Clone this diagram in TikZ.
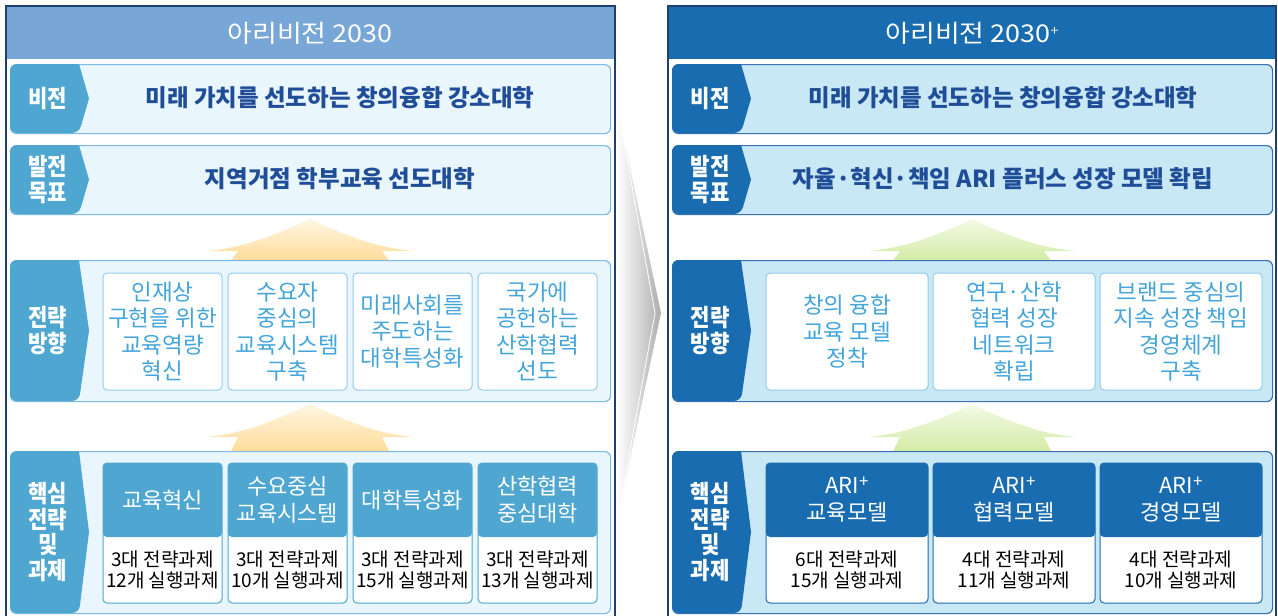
\documentclass[tikz,border=0pt]{standalone}
\usepackage{fontspec}
\usetikzlibrary{positioning}
\newfontfamily\krtitle[FakeStretch=1.1]{Noto Sans CJK KR}
\newfontfamily\krwide{Noto Sans CJK KR}
\newfontfamily\krfont[FakeStretch=0.88]{Noto Sans CJK KR}

\definecolor{navy}{HTML}{1F3F6E}
\definecolor{oldtitle}{HTML}{78A7D7}
\definecolor{oldtab}{HTML}{4EA6D1}
\definecolor{oldrowfill}{HTML}{EAF6FD}
\definecolor{oldline}{HTML}{7DBBE3}
\definecolor{newtitle}{HTML}{1A6CB0}
\definecolor{newrowfill}{HTML}{C8E8F5}
\definecolor{newline}{HTML}{3A70B8}
\definecolor{boxline}{HTML}{95CBEA}
\definecolor{boxtext}{HTML}{44A5DA}
\definecolor{goaltext}{HTML}{1F4D97}
\definecolor{oldarrowtop}{HTML}{FFF6E2}
\definecolor{oldarrowbot}{HTML}{FFDB98}
\definecolor{newarrowtop}{HTML}{F3FAE6}
\definecolor{newarrowbot}{HTML}{D2ECA4}

% tab with a pointed right side: x, top, bottom, colour, label, name
\newcommand\rowtab[6]{%
  \fill[#4, rounded corners=7pt] (#1+40,#2) -- (#1,#2) -- (#1,#3) -- (#1+69,#3)
    [sharp corners] -- (#1+79,{(#2+#3)/2}) -- (#1+69,#2) -- cycle;
  \node[tablabel] (#6) at (#1+38,{(#2+#3)/2}) {#5};
}
% wide upward arrow: centre x, tip, wings, foot, top colour, bottom colour
\newcommand\growarrow[6]{%
  \shade[top color=#5, bottom color=#6] (#1,#2)
    .. controls (#1-30,#2+14) and (#1-65,#3-3) .. (#1-104,#3)
    -- (#1-72,#3) -- (#1-80,#4) -- (#1+80,#4) -- (#1+72,#3) -- (#1+104,#3)
    .. controls (#1+65,#3-3) and (#1+30,#2+14) .. (#1,#2) -- cycle;
}

\begin{document}
\begin{tikzpicture}[
    x=1pt, y=-1pt,
    panel/.style={draw=navy, line width=1.6pt},
    row/.style={
        rounded corners=6pt,
        line width=1.2pt,
        anchor=north west,
        inner sep=0pt,
        minimum width=600pt},
    oldrow/.style={row, draw=oldline, fill=oldrowfill},
    newrow/.style={row, draw=newline, fill=newrowfill},
    titletext/.style={text=white, font=\krtitle\fontsize{24.5}{28}\selectfont},
    tablabel/.style={
        text=white,
        align=center,
        inner sep=0pt,
        font=\krfont\bfseries\fontsize{24}{25.5}\selectfont},
    rowtext/.style={text=goaltext, font=\krwide\bfseries\fontsize{23.5}{27}\selectfont},
    dirbox/.style={
        draw=boxline,
        fill=white,
        rounded corners=4pt,
        line width=1pt,
        minimum height=117pt,
        anchor=north west,
        align=center,
        inner sep=0pt,
        outer sep=0pt,
        text=boxtext,
        font=\krwide\fontsize{22.5}{26.5}\selectfont},
    corebox/.style={
        draw=#1,
        fill=white,
        rounded corners=4pt,
        line width=1pt,
        minimum height=140pt,
        anchor=north west,
        inner sep=0pt,
        outer sep=0pt,
        path picture={\fill[#1] (path picture bounding box.north west)
            rectangle ([yshift=66pt]path picture bounding box.south east);}},
    corehead/.style={text=white, align=center, font=\krwide\fontsize{22}{27}\selectfont},
    coretask/.style={text=black, align=center, font=\krwide\fontsize{19}{20.5}\selectfont}]

\useasboundingbox (0,0) rectangle (1278,616);

% ---------- left panel ----------
\fill[oldtitle] (6,6) rectangle (615,59);
\draw[panel] (6,630) -- (6,6) -- (615,6) -- (615,630);
\node[titletext] (titleL) at (310,33) {아리비전 2030};

\node[oldrow, minimum height=69pt] (visionL) at (10,64) {};
\rowtab{10}{64}{133}{oldtab}{비전}{visionLtab}
\node[rowtext] (visionLtxt) at (340,98) {미래 가치를 선도하는 창의융합 강소대학};

\node[oldrow, minimum height=69pt] (goalL) at (10,145) {};
\rowtab{10}{145}{214}{oldtab}{발전\\목표}{goalLtab}
\node[rowtext] (goalLtxt) at (340,179) {지역거점 학부교육 선도대학};

\growarrow{310}{219}{251}{262}{oldarrowtop}{oldarrowbot}

\node[oldrow, minimum height=141pt] (dirL) at (10,260) {};
\rowtab{10}{260}{401}{oldtab}{전략\\방향}{dirLtab}
\node[dirbox, minimum width=119pt] (dirL1) at (103,273) {인재상\\구현을 위한\\교육역량\\혁신};
\node[dirbox, minimum width=119pt, right=6pt of dirL1] (dirL2) {수요자\\중심의\\교육시스템\\구축};
\node[dirbox, minimum width=119pt, right=6pt of dirL2] (dirL3) {미래사회를\\주도하는\\대학특성화};
\node[dirbox, minimum width=119pt, right=6pt of dirL3] (dirL4) {국가에\\공헌하는\\산학협력\\선도};

\growarrow{310}{404}{437}{453}{oldarrowtop}{oldarrowbot}

\node[oldrow, minimum height=162pt] (coreL) at (10,451) {};
\rowtab{10}{451}{613}{oldtab}{핵심\\전략\\및\\과제}{coreLtab}
\node[corebox=oldtab, minimum width=119pt] (coreL1) at (103,463) {};
\node[corebox=oldtab, minimum width=119pt, right=6pt of coreL1] (coreL2) {};
\node[corebox=oldtab, minimum width=119pt, right=6pt of coreL2] (coreL3) {};
\node[corebox=oldtab, minimum width=119pt, right=6pt of coreL3] (coreL4) {};
\node[corehead] (coreL1h) at ([yshift=-37pt]coreL1.north) {교육혁신};
\node[corehead] (coreL2h) at ([yshift=-37pt]coreL2.north) {수요중심\\교육시스템};
\node[corehead] (coreL3h) at ([yshift=-37pt]coreL3.north) {대학특성화};
\node[corehead] (coreL4h) at ([yshift=-37pt]coreL4.north) {산학협력\\중심대학};
\node[coretask] (coreL1t) at ([yshift=33pt]coreL1.south) {3대 전략과제\\12개 실행과제};
\node[coretask] (coreL2t) at ([yshift=33pt]coreL2.south) {3대 전략과제\\10개 실행과제};
\node[coretask] (coreL3t) at ([yshift=33pt]coreL3.south) {3대 전략과제\\15개 실행과제};
\node[coretask] (coreL4t) at ([yshift=33pt]coreL4.south) {3대 전략과제\\13개 실행과제};

% ---------- middle chevron ----------
\shade[left color=white, right color=black!32] (617,106) -- (661,313) -- (617,520) -- cycle;
\draw[white, line width=0.8pt] (621,126) -- (655,313) -- (621,500);

% ---------- right panel ----------
\fill[newtitle] (668,6) rectangle (1276,59);
\draw[panel] (668,630) -- (668,6) -- (1276,6) -- (1276,630);
\node[titletext] (titleR) at (972,33) {아리비전 2030\raisebox{7pt}{\fontsize{13}{13}\selectfont +}};

\node[newrow, minimum height=69pt] (visionR) at (672,64) {};
\rowtab{672}{64}{133}{newtitle}{비전}{visionRtab}
\node[rowtext] (visionRtxt) at (1003,98) {미래 가치를 선도하는 창의융합 강소대학};

\node[newrow, minimum height=69pt] (goalR) at (672,145) {};
\rowtab{672}{145}{214}{newtitle}{발전\\목표}{goalRtab}
\node[rowtext] (goalRtxt) at (1003,179) {자율·혁신·책임 ARI 플러스 성장 모델 확립};

\growarrow{972}{219}{251}{262}{newarrowtop}{newarrowbot}

\node[newrow, minimum height=141pt] (dirR) at (672,260) {};
\rowtab{672}{260}{401}{newtitle}{전략\\방향}{dirRtab}
\node[dirbox, minimum width=162pt] (dirR1) at (766,273) {창의 융합\\교육 모델\\정착};
\node[dirbox, minimum width=162pt, right=5pt of dirR1] (dirR2) {연구·산학\\협력 성장\\네트워크\\확립};
\node[dirbox, minimum width=162pt, right=5pt of dirR2] (dirR3) {브랜드 중심의\\지속 성장 책임\\경영체계\\구축};

\growarrow{972}{404}{437}{453}{newarrowtop}{newarrowbot}

\node[newrow, minimum height=162pt] (coreR) at (672,451) {};
\rowtab{672}{451}{613}{newtitle}{핵심\\전략\\및\\과제}{coreRtab}
\node[corebox=newtitle, minimum width=162pt] (coreR1) at (766,463) {};
\node[corebox=newtitle, minimum width=162pt, right=5pt of coreR1] (coreR2) {};
\node[corebox=newtitle, minimum width=162pt, right=5pt of coreR2] (coreR3) {};
\node[corehead] (coreR1h) at ([yshift=-37pt]coreR1.north) {ARI\raisebox{6pt}{\fontsize{17}{17}\selectfont +}\\교육모델};
\node[corehead] (coreR2h) at ([yshift=-37pt]coreR2.north) {ARI\raisebox{6pt}{\fontsize{17}{17}\selectfont +}\\협력모델};
\node[corehead] (coreR3h) at ([yshift=-37pt]coreR3.north) {ARI\raisebox{6pt}{\fontsize{17}{17}\selectfont +}\\경영모델};
\node[coretask] (coreR1t) at ([yshift=33pt]coreR1.south) {6대 전략과제\\15개 실행과제};
\node[coretask] (coreR2t) at ([yshift=33pt]coreR2.south) {4대 전략과제\\11개 실행과제};
\node[coretask] (coreR3t) at ([yshift=33pt]coreR3.south) {4대 전략과제\\10개 실행과제};
\end{tikzpicture}
\end{document}
